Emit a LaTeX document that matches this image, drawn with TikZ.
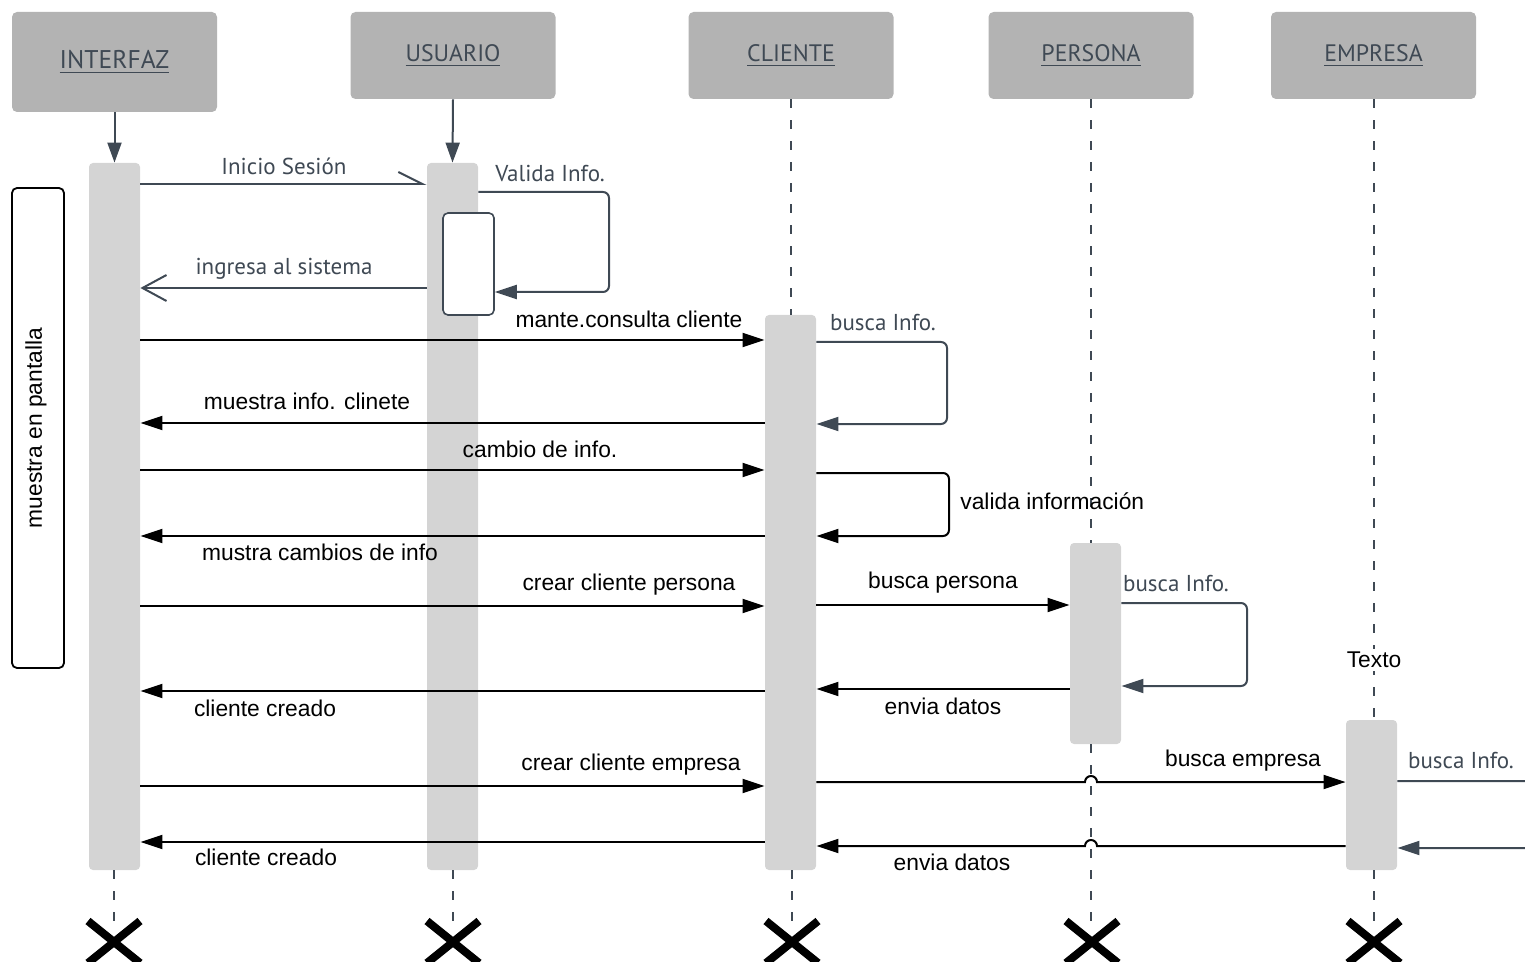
\documentclass[tikz,border=0pt]{standalone}
\usepackage{fontspec}
\setmainfont{Liberation Sans}
\newfontfamily\ptsans{PT Sans}
\usetikzlibrary{arrows.meta,shapes.misc}
\definecolor{headgray}{HTML}{B3B3B3}
\definecolor{bargray}{HTML}{D4D4D4}
\definecolor{slate}{HTML}{3F4954}
\begin{document}
\begin{tikzpicture}[x=0.5pt,y=-0.5pt,
  head/.style={rectangle, fill=headgray, rounded corners=2.5pt, minimum width=102.5pt, minimum height=43.5pt, inner sep=0pt, font=\ptsans\fontsize{11.9}{13}\selectfont, text=slate},
  bar/.style={rectangle, fill=bargray, rounded corners=2pt, minimum width=25.5pt, inner sep=0pt},
  msg/.style={line width=1pt, -{Triangle[length=11pt,width=7pt]}},
  gmsg/.style={slate, line width=1pt, -{Triangle[length=11pt,width=7pt]}},
  lbl/.style={inner sep=0pt, font=\fontsize{11.4}{13}\selectfont},
  glbl/.style={inner sep=0pt, text=slate, font=\ptsans\fontsize{11.5}{13}\selectfont},
  life/.style={slate, line width=1pt, dash pattern=on 4.5pt off 6pt},
  down/.style={slate, line width=1pt, -{Triangle[length=10pt,width=7pt]}},
  endx/.style={draw, cross out, line width=4pt, minimum width=22pt, minimum height=17pt, inner sep=0pt}
]
\path[use as bounding box, clip] (0,0) rectangle (1525,962);

% headers
\node[head, minimum height=50pt, font=\ptsans\fontsize{12.8}{14}\selectfont] (ihead) at (114.5,62) {\underline{INTERFAZ}};
\node[head] (uhead) at (453,55.5) {\underline{USUARIO}};
\node[head] (chead) at (791,55.5) {\underline{CLIENTE}};
\node[head] (phead) at (1091,55.5) {\underline{PERSONA}};
\node[head] (ehead) at (1373.5,55.5) {\underline{EMPRESA}};

% activation bars
\node[bar, minimum height=353.5pt] (ibar) at (114.5,516.5) {};
\node[bar, minimum height=353.5pt] (ubar) at (452.5,516.5) {};
\node[bar, minimum height=277.5pt] (cbar) at (790.5,592.5) {};
\node[bar, minimum height=100.5pt] (pbar) at (1095.5,643.5) {};
\node[bar, minimum height=75pt] (ebar) at (1371.5,795) {};

% inner box on USUARIO
\node[rectangle, draw=slate, fill=white, line width=0.8pt, rounded corners=2.5pt, minimum width=25.5pt, minimum height=51pt, inner sep=0pt] (ubox) at (468.5,264) {};

% left box
\node[rectangle, draw=black, line width=0.9pt, rounded corners=2.5pt, minimum width=26pt, minimum height=240pt, inner sep=0pt] (mbox) at (38,428) {};
\node[lbl, rotate=90] (mtext) at (36,428) {muestra en pantalla};

% end marks
\node[endx] (ix) at (114,942) {};
\node[endx] (ux) at (453,942) {};
\node[endx] (cx) at (792,942) {};
\node[endx] (px) at (1092,942) {};
\node[endx] (ex) at (1374,942) {};

% lifelines
\draw[down] (ihead.south) -- (ibar.north);
\draw[down] (uhead.south) -- (ubar.north);
\draw[life] (chead.south) -- (cbar.north -| chead.south);
\draw[life] (phead.south) -- (pbar.north -| phead.south);
\draw[life] (pbar.south -| phead.south) -- (px.north -| phead.south);
\draw[life] (ehead.south) -- (ebar.north -| ehead.south);
\draw[life] (ibar.south -| ix) -- (ix.north);
\draw[life] (ubar.south -| ux) -- (ux.north);
\draw[life] (cbar.south -| cx) -- (cx.north);
\draw[life] (ebar.south -| ex) -- (ex.north);
\node[lbl, fill=white, inner sep=1.5pt] (texto) at (1374,660) {Texto};

% messages
\draw[slate, line width=1pt, -{Straight Barb[harpoon,length=12pt,width=12pt]}] (ibar.east |- 0,184) -- (ubar.west |- 0,184);
\node[glbl] (l1) at (284,166) {Inicio Sesión};

\draw[gmsg, rounded corners=3pt] (ubar.east |- 0,192) -- (609,192) -- (609,292) -- (ubox.east |- 0,292);
\node[glbl] (l2) at (550,173) {Valida Info.};

\draw[slate, line width=1pt, -{Straight Barb[length=12pt,width=13pt]}] (ubar.west |- 0,288) -- (ibar.east |- 0,288);
\node[glbl] (l3) at (284,269) {ingresa al sistema};

\draw[msg] (ibar.east |- 0,340) -- (cbar.west |- 0,340);
\node[lbl] (l4) at (629,319) {mante.consulta cliente};

\draw[gmsg, rounded corners=3pt] (cbar.east |- 0,342) -- (947,342) -- (947,424) -- (cbar.east |- 0,424);
\node[glbl] (l5) at (883,323) {busca Info.};

\draw[msg] (cbar.west |- 0,423) -- (ibar.east |- 0,423);
\node[lbl] (l6) at (307,401) {muestra info. clinete};

\draw[msg] (ibar.east |- 0,470) -- (cbar.west |- 0,470);
\node[lbl] (l7) at (540,449) {cambio de info.};

\draw[msg, rounded corners=3pt] (cbar.east |- 0,473) -- (949,473) -- (949,536) -- (cbar.east |- 0,536);
\node[lbl, anchor=west] (l8) at (960,501) {valida información};

\draw[msg] (cbar.west |- 0,536) -- (ibar.east |- 0,536);
\node[lbl] (l9) at (320,552) {mustra cambios de info};

\draw[msg] (ibar.east |- 0,606) -- (cbar.west |- 0,606);
\node[lbl] (l10) at (629,585) {crear cliente persona};

\draw[msg] (cbar.east |- 0,605) -- (pbar.west |- 0,605);
\node[lbl] (l11) at (943,583) {busca persona};

\draw[gmsg, rounded corners=3pt] (pbar.east |- 0,603) -- (1247,603) -- (1247,686) -- (pbar.east |- 0,686);
\node[glbl] (l12) at (1176,584) {busca Info.};

\draw[msg] (cbar.west |- 0,691) -- (ibar.east |- 0,691);
\node[lbl] (l13) at (265,708) {cliente creado};

\draw[msg] (pbar.west |- 0,689) -- (cbar.east |- 0,689);
\node[lbl] (l14) at (943,706) {envia datos};

\draw[msg] (ibar.east |- 0,786) -- (cbar.west |- 0,786);
\node[lbl] (l15) at (631,765) {crear cliente empresa};

\draw[msg] (cbar.east |- 0,782) -- (1085,782) arc[start angle=180, end angle=360, radius=6] -- (ebar.west |- 0,782);
\node[lbl] (l16) at (1243,761) {busca empresa};

\draw[gmsg, rounded corners=3pt] (ebar.east |- 0,781) -- (1560,781) -- (1560,848) -- (ebar.east |- 0,848);
\node[glbl] (l17) at (1461,761) {busca Info.};

\draw[msg] (cbar.west |- 0,842) -- (ibar.east |- 0,842);
\node[lbl] (l18) at (266,857) {cliente creado};

\draw[msg] (ebar.west |- 0,846) -- (1097,846) arc[start angle=0, end angle=-180, radius=6] -- (cbar.east |- 0,846);
\node[lbl] (l19) at (952,862) {envia datos};
\end{tikzpicture}
\end{document}
